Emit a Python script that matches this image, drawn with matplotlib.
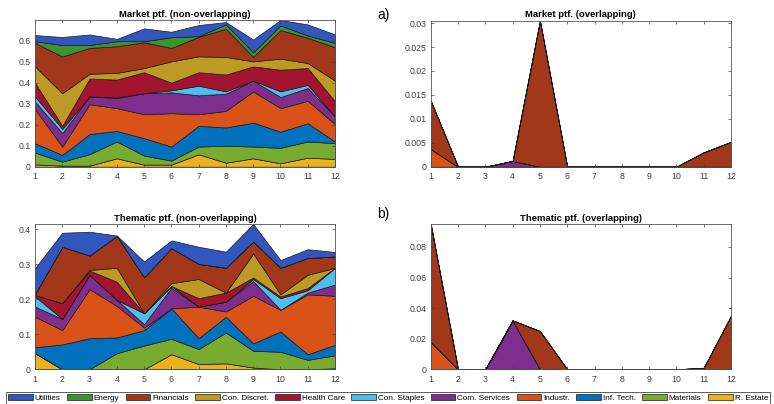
import numpy as np
import matplotlib
matplotlib.use('Agg')
import matplotlib.pyplot as plt
from matplotlib.patches import Patch
from matplotlib.ticker import FuncFormatter

plt.rcParams['font.family'] = ['Liberation Sans', 'DejaVu Sans']

#horizon (months)
months = np.arange(1, 13)

#sector names, legend order (top of stack first)
sectors = ['Utilities', 'Energy', 'Financials', 'Con. Discret.', 'Health Care', 'Con. Staples',
           'Com. Services', 'Industr.', 'Inf. Tech.', 'Materials', 'R. Estate']
colors = ['#3157BF', '#3C9430', '#A23719', '#BC9A24', '#A2142F', '#4DBEEE',
          '#7E2F8E', '#D95319', '#0072BD', '#77AC30', '#EDB120']

#market portfolio, non-overlapping (one list per sector)
mkt_utilities = [0.029, 0.038, 0.050, 0.011, 0.061, 0.026, 0.053, 0.011, 0.061, 0.026, 0.053, 0.040]
mkt_energy = [0.008, 0.055, 0.014, 0.024, 0.005, 0.051, 0.003, 0.021, 0.022, 0.022, 0.011, 0.021]
mkt_financials = [0.112, 0.175, 0.123, 0.127, 0.123, 0.064, 0.093, 0.134, 0.021, 0.136, 0.120, 0.159]
mkt_condiscret = [0.078, 0.155, 0.023, 0.032, 0.020, 0.102, 0.076, 0.084, 0.024, 0.053, 0.024, 0.099]
mkt_healthcare = [0.065, 0.015, 0.085, 0.085, 0.099, 0.036, 0.064, 0.080, 0.068, 0.103, 0.080, 0.072]
mkt_constaples = [0.025, 0.020, 0.000, 0.003, 0.001, 0.010, 0.046, 0.011, 0.000, 0.027, 0.015, 0.000]
mkt_comservices = [0.036, 0.064, 0.037, 0.048, 0.100, 0.099, 0.090, 0.082, 0.051, 0.053, 0.061, 0.036]
mkt_industr = [0.162, 0.040, 0.142, 0.109, 0.114, 0.159, 0.055, 0.079, 0.149, 0.112, 0.107, 0.083]
mkt_inftech = [0.045, 0.032, 0.096, 0.050, 0.083, 0.067, 0.099, 0.087, 0.114, 0.077, 0.087, 0.008]
mkt_materials = [0.056, 0.019, 0.055, 0.080, 0.043, 0.019, 0.037, 0.081, 0.056, 0.074, 0.077, 0.075]
mkt_restate = [0.011, 0.005, 0.005, 0.040, 0.010, 0.010, 0.059, 0.019, 0.040, 0.016, 0.043, 0.037]

#thematic portfolio, non-overlapping
thm_utilities = [0.074, 0.040, 0.068, 0.001, 0.045, 0.022, 0.049, 0.046, 0.050, 0.022, 0.025, 0.013]
thm_energy = [0.000, 0.000, 0.000, 0.000, 0.000, 0.000, 0.000, 0.000, 0.000, 0.000, 0.000, 0.000]
thm_financials = [0.003, 0.161, 0.041, 0.091, 0.103, 0.100, 0.043, 0.071, 0.034, 0.076, 0.048, 0.032]
thm_condiscret = [0.000, 0.000, 0.002, 0.040, 0.000, 0.008, 0.055, 0.000, 0.069, 0.006, 0.038, 0.000]
thm_healthcare = [0.004, 0.045, 0.012, 0.052, 0.000, 0.000, 0.024, 0.026, 0.004, 0.005, 0.006, 0.000]
thm_constaples = [0.029, 0.000, 0.000, 0.000, 0.031, 0.005, 0.000, 0.000, 0.006, 0.033, 0.007, 0.048]
thm_comservices = [0.029, 0.032, 0.041, 0.017, 0.010, 0.059, 0.000, 0.028, 0.042, 0.000, 0.005, 0.032]
thm_industr = [0.087, 0.041, 0.140, 0.090, 0.007, 0.000, 0.090, 0.015, 0.136, 0.062, 0.171, 0.140]
thm_inftech = [0.017, 0.071, 0.089, 0.045, 0.044, 0.087, 0.031, 0.045, 0.021, 0.058, 0.016, 0.030]
thm_materials = [0.000, 0.000, 0.000, 0.046, 0.068, 0.044, 0.043, 0.088, 0.048, 0.050, 0.027, 0.037]
thm_restate = [0.046, 0.000, 0.000, 0.000, 0.000, 0.043, 0.015, 0.017, 0.005, 0.000, 0.000, 0.003]

#overlapping parts (only three sectors are non-zero)
zeros = [0.0] * 12
mkt_ov_financials = [0.0101, 0, 0, 0, 0.0305, 0, 0, 0, 0, 0, 0.0030, 0.0052]
mkt_ov_comservices = [0, 0, 0, 0.0012, 0, 0, 0, 0, 0, 0, 0, 0]
mkt_ov_industr = [0.0037, 0, 0, 0, 0, 0, 0, 0, 0, 0, 0, 0]
thm_ov_financials = [0.077, 0, 0, 0, 0.025, 0, 0, 0, 0, 0, 0.001, 0.035]
thm_ov_comservices = [0, 0, 0, 0.032, 0, 0, 0, 0, 0, 0, 0, 0]
thm_ov_industr = [0.018, 0, 0, 0, 0, 0, 0, 0, 0, 0, 0, 0]

mkt = [mkt_utilities, mkt_energy, mkt_financials, mkt_condiscret, mkt_healthcare, mkt_constaples,
       mkt_comservices, mkt_industr, mkt_inftech, mkt_materials, mkt_restate]
thm = [thm_utilities, thm_energy, thm_financials, thm_condiscret, thm_healthcare, thm_constaples,
       thm_comservices, thm_industr, thm_inftech, thm_materials, thm_restate]
mkt_ov = [zeros, zeros, mkt_ov_financials, zeros, zeros, zeros, mkt_ov_comservices, mkt_ov_industr,
          zeros, zeros, zeros]
thm_ov = [zeros, zeros, thm_ov_financials, zeros, zeros, zeros, thm_ov_comservices, thm_ov_industr,
          zeros, zeros, zeros]

fig = plt.figure(figsize=(7.74, 4.04), dpi=100)
W, H = 774.0, 404.0

def make_axes(x0, y0, x1, y1):
    return fig.add_axes([x0 / W, 1 - y1 / H, (x1 - x0) / W, (y1 - y0) / H])

def area_plot(ax, layers, title, yticks, fmt):
    #stack bottom-up: reverse legend order
    ax.stackplot(months, np.array(layers[::-1]), colors=colors[::-1],
                 edgecolor='#1a1a1a', linewidth=0.5)
    total = np.array(layers).sum(axis=0)
    ax.set_xlim(1, 12)
    ax.set_ylim(0, total.max())
    ax.set_xticks(months)
    ax.set_yticks(yticks)
    ax.yaxis.set_major_formatter(FuncFormatter(lambda v, p: fmt % v if v != 0 else '0'))
    ax.tick_params(direction='in', top=True, right=True, length=2.5, width=0.5,
                   labelsize=6.3, colors='#404040')
    ax.tick_params(axis='x', pad=4)
    ax.tick_params(axis='y', pad=3)
    for s in ax.spines.values():
        s.set_color('#555555')
        s.set_linewidth(0.6)
    ax.set_title(title, fontsize=6.8, fontweight='bold', pad=2.5)

ax1 = make_axes(35, 20, 335, 166.7)
area_plot(ax1, mkt, 'Market ptf. (non-overlapping)', np.arange(0, 0.61, 0.1), '%.1f')

ax2 = make_axes(430.7, 20.7, 731, 166.7)
area_plot(ax2, mkt_ov, 'Market ptf. (overlapping)', np.arange(0, 0.0301, 0.005), '%g')

ax3 = make_axes(35, 224, 335, 369.3)
area_plot(ax3, thm, 'Thematic ptf. (non-overlapping)', np.arange(0, 0.41, 0.1), '%.1f')

ax4 = make_axes(430.7, 224, 731, 369.3)
area_plot(ax4, thm_ov, 'Thematic ptf. (overlapping)', np.arange(0, 0.081, 0.02), '%g')

fig.text(377 / W, 1 - 15 / H, 'a)', fontsize=10, va='center', ha='left')
fig.text(377 / W, 1 - 214 / H, 'b)', fontsize=10, va='center', ha='left')

handles = [Patch(facecolor=c, edgecolor='#1a1a1a', linewidth=0.5) for c in colors]
leg = fig.legend(handles, sectors, loc='lower left', ncol=11, mode='expand',
                 bbox_to_anchor=(6 / W, 0, 764 / W, 12 / H), fontsize=5.9,
                 handlelength=3.0, handleheight=0.75, handletextpad=0.25,
                 columnspacing=0.5, borderpad=0.25, borderaxespad=0, fancybox=False,
                 frameon=True)
leg.get_frame().set_edgecolor('#333333')
leg.get_frame().set_linewidth(0.7)

fig.savefig('out.png', dpi=100)
